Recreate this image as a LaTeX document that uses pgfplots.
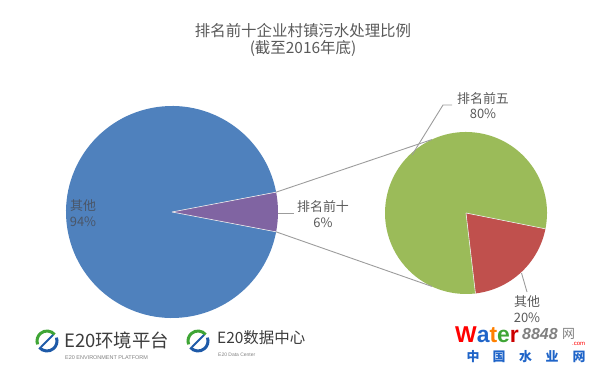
\documentclass[border=0pt]{standalone}
\usepackage{pgfplots}
\pgfplotsset{compat=1.18}
\usepackage{fontspec}
\setmainfont{Noto Sans CJK SC}
\newfontfamily\lat{Liberation Sans}
\definecolor{cblue}{HTML}{4F81BD}
\definecolor{cred}{HTML}{C0504D}
\definecolor{cgreen}{HTML}{9BBB59}
\definecolor{cpurple}{HTML}{8064A2}
\definecolor{labgray}{HTML}{595959}
\definecolor{ingray}{HTML}{4A5668}
\definecolor{linegray}{HTML}{9C9C9C}
\definecolor{logogreen}{HTML}{3FA535}
\definecolor{logoblue}{HTML}{1E5AA8}
\definecolor{logotext}{HTML}{3C3C3C}
\definecolor{cnblue}{HTML}{1F64C8}
% data (percent)
\def\bigOther{94}
\def\bigTopTen{6}
\def\smallTopFive{80}
\def\smallOther{20}
\begin{document}
\begin{tikzpicture}
\pgfmathsetmacro\bh{3.6*\bigTopTen/2}
\pgfmathsetmacro\bs{360-\bh}
\pgfmathsetmacro\rs{-83.3}
\pgfmathsetmacro\re{\rs+3.6*\smallOther}
\pgfmathsetmacro\ge{\re+3.6*\smallTopFive}
\begin{axis}[
  width=597bp, height=374bp, scale only axis,
  xmin=0, xmax=597, ymin=0, ymax=374,
  hide axis, clip=false,
]
\path (axis cs:0,0) rectangle (axis cs:597,374);
% big pie
\fill[cblue] (axis cs:172,162) -- ++(\bh:106bp) arc[start angle=\bh, end angle=\bs, radius=106bp] -- cycle;
\fill[cpurple] (axis cs:172,162) -- ++(\bs:106bp) arc[start angle=\bs, end angle=360+\bh, radius=106bp] -- cycle;
\draw[white!85!gray, line width=0.6bp] (axis cs:172,162) -- ++(\bh:106bp);
\draw[white!85!gray, line width=0.6bp] (axis cs:172,162) -- ++(\bs:106bp);
% small pie
\fill[cred] (axis cs:466,161) -- ++(\rs:81bp) arc[start angle=\rs, end angle=\re, radius=81bp] -- cycle;
\fill[cgreen] (axis cs:466,161) -- ++(\re:81bp) arc[start angle=\re, end angle=\ge, radius=81bp] -- cycle;
\draw[white!85!gray, line width=0.6bp] (axis cs:466,161) -- ++(\rs:81bp);
\draw[white!85!gray, line width=0.6bp] (axis cs:466,161) -- ++(\re:81bp);
% connectors
\draw[linegray, line width=0.9bp] (axis cs:172,162) ++(\bh:106bp) -- (axis cs:431.8,234.4);
\draw[linegray, line width=0.9bp] (axis cs:172,162) ++(-\bh:106bp) -- (axis cs:431.8,87.6);
% leader lines
\draw[linegray, line width=0.9bp] (axis cs:278,161) -- (axis cs:293.5,161);
\draw[linegray, line width=0.9bp] (axis cs:412,219) -- (axis cs:443,269) -- (axis cs:452,269);
\draw[linegray, line width=0.9bp] (axis cs:521.5,101) -- (axis cs:527,82);
% labels
\node[text=ingray, align=center, font=\fontsize{13}{15.5}\selectfont] at (axis cs:83,161) {其他\\94\%};
\node[text=labgray, align=center, font=\fontsize{13}{15.5}\selectfont] at (axis cs:323,160) {排名前十\\6\%};
\node[text=labgray, align=center, font=\fontsize{13}{15.5}\selectfont] at (axis cs:483,268.5) {排名前五\\80\%};
\node[text=labgray, align=center, font=\fontsize{13}{15.5}\selectfont] at (axis cs:527,65) {其他\\20\%};
% title
\node[text=labgray, align=center, font=\fontsize{15.5}{17.5}\selectfont] at (axis cs:303,334) {排名前十企业村镇污水处理比例\\(截至2016年底)};
% logos
\draw[logogreen, line width=3bp] (axis cs:47,33) ++(40:10bp) arc[start angle=40, end angle=200, radius=10bp];
\draw[logoblue, line width=3bp] (axis cs:47,33) ++(220:10bp) arc[start angle=220, end angle=380, radius=10bp];
\draw[logoblue, line width=2bp] (axis cs:41,27) .. controls (axis cs:47,33) .. (axis cs:53,39);
\node[anchor=west, text=logotext, inner sep=0pt, font=\fontsize{18.5}{18.5}\selectfont] at (axis cs:64,34) {E20环境平台};
\node[anchor=west, text=gray, inner sep=0pt, font=\lat\fontsize{5.5}{5.5}\selectfont] at (axis cs:65,16.5) {E20 ENVIRONMENT PLATFORM};
\draw[logogreen, line width=3bp] (axis cs:198,33) ++(40:10bp) arc[start angle=40, end angle=200, radius=10bp];
\draw[logoblue, line width=3bp] (axis cs:198,33) ++(220:10bp) arc[start angle=220, end angle=380, radius=10bp];
\draw[logoblue, line width=2bp] (axis cs:192,27) .. controls (axis cs:198,33) .. (axis cs:204,39);
\node[anchor=west, text=logotext, inner sep=0pt, font=\fontsize{15.5}{15.5}\selectfont] at (axis cs:217,36) {E20数据中心};
\node[anchor=west, text=gray, inner sep=0pt, font=\lat\fontsize{5}{5}\selectfont] at (axis cs:218,19.5) {E20 Data Center};
% water logo
\node[anchor=west, inner sep=0pt, font=\lat\bfseries\fontsize{23}{23}\selectfont] at (axis cs:455,39) {\textcolor{red}{W}\textcolor{cnblue}{a}\textcolor{orange}{t}\textcolor{logogreen}{e}\textcolor{red!80!black}{r}};
\node[anchor=west, inner sep=0pt, text=gray, font=\lat\bfseries\itshape\fontsize{16}{16}\selectfont] at (axis cs:522,40) {8848};
\node[anchor=west, inner sep=0pt, text=gray, font=\fontsize{13}{13}\selectfont] at (axis cs:562,40) {网};
\node[anchor=west, inner sep=0pt, text=red, font=\lat\fontsize{6}{6}\selectfont] at (axis cs:572,30) {.com};
\node[text=cnblue, inner sep=0pt, font=\bfseries\fontsize{13}{13}\selectfont] at (axis cs:473,17.5) {中};
\node[text=cnblue, inner sep=0pt, font=\bfseries\fontsize{13}{13}\selectfont] at (axis cs:499,17.5) {国};
\node[text=cnblue, inner sep=0pt, font=\bfseries\fontsize{13}{13}\selectfont] at (axis cs:525.5,17.5) {水};
\node[text=cnblue, inner sep=0pt, font=\bfseries\fontsize{13}{13}\selectfont] at (axis cs:552,17.5) {业};
\node[text=cnblue, inner sep=0pt, font=\bfseries\fontsize{13}{13}\selectfont] at (axis cs:579,17.5) {网};
\end{axis}
\end{tikzpicture}
\end{document}
